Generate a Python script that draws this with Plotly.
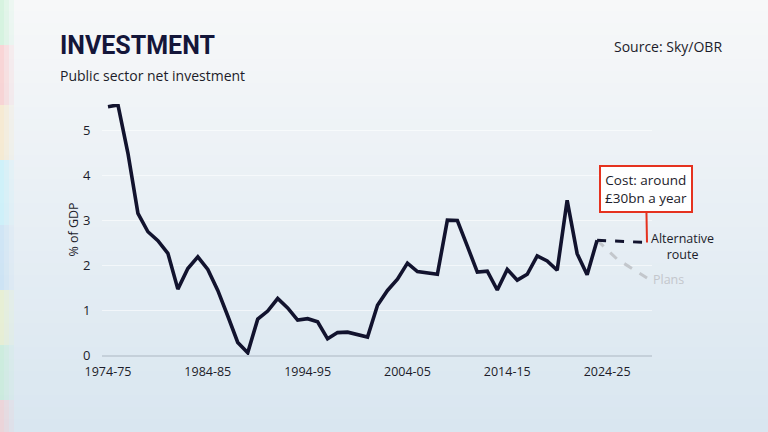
import plotly.graph_objects as go

# Public sector net investment, % of GDP (year = start of financial year)
years = list(range(1974, 2024))
investment = [5.54, 5.58, 4.50, 3.16, 2.75, 2.55, 2.27, 1.47, 1.93, 2.19,
              1.91, 1.44, 0.87, 0.28, 0.05, 0.80, 0.98, 1.26, 1.05, 0.78,
              0.81, 0.74, 0.36, 0.50, 0.51, 0.46, 0.40, 1.11, 1.44, 1.69,
              2.05, 1.86, 1.82, 1.80, 3.01, 3.00, 2.43, 1.85, 1.87, 1.45,
              1.91, 1.67, 1.80, 2.21, 2.10, 1.89, 3.45, 2.26, 1.79, 2.56]

proj_years = [2023, 2024, 2025, 2026, 2027, 2028]
alternative = [2.56, 2.55, 2.54, 2.52, 2.51, 2.51]
plans = [2.56, 2.35, 2.14, 2.00, 1.85, 1.72]

tick_years = [1974, 1984, 1994, 2004, 2014, 2024]
tick_labels = ["1974-75", "1984-85", "1994-95", "2004-05", "2014-15", "2024-25"]

NAVY = "#12132e"
TEXT = "#1c1c2a"
RED = "#e5321f"
FONT = "Open Sans, Noto Sans, sans-serif"

W, H = 768, 432
M = dict(l=102, r=116, t=104, b=77)
PW = W - M["l"] - M["r"]
PH = H - M["t"] - M["b"]


def px_x(x):
    return (x - M["l"]) / PW


def px_y(y):
    return (H - M["b"] - y) / PH


fig = go.Figure()

fig.add_trace(go.Scatter(
    x=proj_years, y=plans, mode="lines",
    line=dict(color="#c3c7cc", width=3, dash="dash"),
    hoverinfo="skip",
))
fig.add_trace(go.Scatter(
    x=proj_years, y=alternative, mode="lines",
    line=dict(color=NAVY, width=3, dash="dash"),
    hoverinfo="skip",
))
fig.add_trace(go.Scatter(
    x=years, y=investment, mode="lines",
    line=dict(color=NAVY, width=3.6),
    hovertemplate="%{x}: %{y:.2f}%<extra></extra>",
))

# soft vertical gradient background, top near-white to pale blue
n_bands = 36
top = (247, 248, 249)
bottom = (217, 230, 240)
shapes = []
for i in range(n_bands):
    t = i / (n_bands - 1)
    c = tuple(round(top[k] + (bottom[k] - top[k]) * t) for k in range(3))
    shapes.append(dict(
        type="rect", xref="paper", yref="paper", layer="below",
        x0=px_x(-5), x1=px_x(W + 5),
        y0=px_y((i + 1) * H / n_bands + 1), y1=px_y(i * H / n_bands - 1),
        fillcolor="rgb(%d,%d,%d)" % c, line=dict(width=0),
    ))

# faint coloured strip down the left edge
edge = [(0, 45, "#b8f0c8"), (45, 105, "#ffb3b3"), (105, 160, "#ffe3b0"),
        (160, 225, "#b3f2ff"), (225, 290, "#b9dcf7"), (290, 345, "#eef5b8"),
        (345, 400, "#bdf0cc"), (400, 432, "#ffc2c2")]
for y0, y1, col in edge:
    for w, op in [(14, 0.15), (9, 0.2), (4, 0.25)]:
        shapes.append(dict(
            type="rect", xref="paper", yref="paper", layer="below",
            x0=px_x(-1), x1=px_x(w), y0=px_y(y1), y1=px_y(y0),
            fillcolor=col, opacity=op, line=dict(width=0),
        ))

fig.update_layout(
    width=W, height=H,
    margin=M,
    paper_bgcolor="#eef3f6",
    plot_bgcolor="rgba(0,0,0,0)",
    showlegend=False,
    shapes=shapes,
    font=dict(family=FONT, color=TEXT, size=13),
    xaxis=dict(
        range=[1973.4, 2028.5],
        tickvals=tick_years, ticktext=tick_labels,
        tickfont=dict(size=12.5, color=TEXT),
        showgrid=False, zeroline=False,
        showline=True, linecolor="#c5d0da", linewidth=1.5,
        ticks="outside", ticklen=4, tickcolor="rgba(0,0,0,0)",
    ),
    yaxis=dict(
        range=[0, 5.6],
        tickvals=[0, 1, 2, 3, 4, 5],
        tickfont=dict(size=13, color=TEXT),
        gridcolor="rgba(255,255,255,0.55)", gridwidth=1,
        zeroline=False, showline=False,
        ticks="outside", ticklen=8, tickcolor="rgba(0,0,0,0)",
        title=dict(text="% of GDP", font=dict(size=12.5, color=TEXT), standoff=1),
    ),
    annotations=[
        dict(xref="paper", yref="paper", x=px_x(58), y=px_y(46), xanchor="left", yanchor="middle",
             text="<b>INVESTMENT</b>", showarrow=False,
             font=dict(family="Roboto, sans-serif", size=25, color="#14163a")),
        dict(xref="paper", yref="paper", x=px_x(58), y=px_y(75), xanchor="left", yanchor="middle",
             text="Public sector net investment", showarrow=False,
             font=dict(size=14, color=TEXT)),
        dict(xref="paper", yref="paper", x=px_x(724), y=px_y(47), xanchor="right", yanchor="middle",
             text="Source: Sky/OBR", showarrow=False,
             font=dict(size=14, color=TEXT)),
        dict(x=2028, y=alternative[-1], ax=-1, ay=-54,
             text="Cost: around<br>£30bn a year", showarrow=True,
             arrowhead=0, arrowwidth=2, arrowcolor=RED,
             bordercolor=RED, borderwidth=2, borderpad=4, bgcolor="white",
             font=dict(size=13.5, color=TEXT)),
        dict(x=2028, y=alternative[-1], xanchor="left", yanchor="middle",
             xshift=2, yshift=-4, showarrow=False, align="center",
             text="Alternative<br>route", font=dict(size=12.5, color=TEXT)),
        dict(x=2028, y=plans[-1], xanchor="left", yanchor="middle",
             xshift=4, yshift=-2, showarrow=False,
             text="Plans", font=dict(size=12.5, color="#c3c7cc")),
    ],
)

# the page's default body margin would shift the figure by 8px
fig.write_html("out.html", config={"displayModeBar": False},
               post_script="document.body.style.margin='0';")
